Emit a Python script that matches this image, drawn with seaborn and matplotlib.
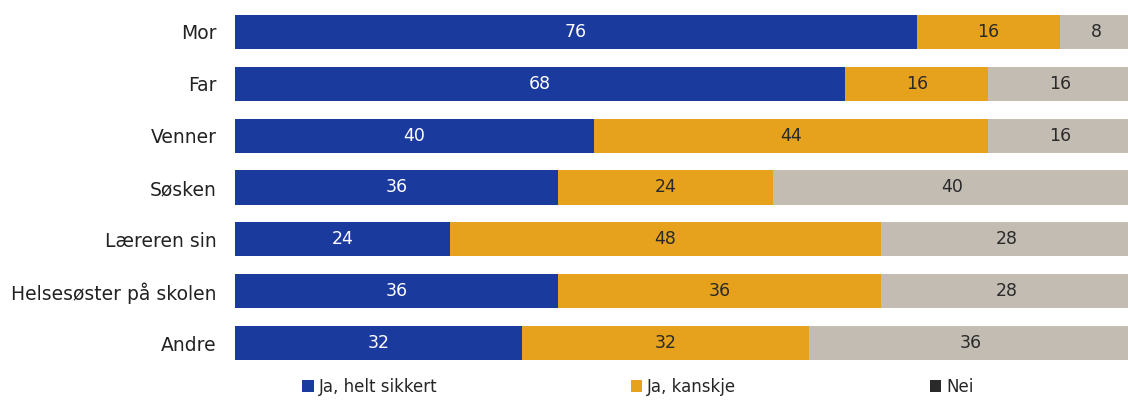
import numpy as np
import pandas as pd
import matplotlib.pyplot as plt
import seaborn as sns
from matplotlib.patches import Patch

categories = ['Mor', 'Far', 'Venner', 'Søsken', 'Læreren sin',
              'Helsesøster på skolen', 'Andre']
helt_sikkert = [76, 68, 40, 36, 24, 36, 32]
kanskje = [16, 16, 44, 24, 48, 36, 32]
nei = [8, 16, 16, 40, 28, 28, 36]
series_names = ['Ja, helt sikkert', 'Ja, kanskje', 'Nei']

colors = ['#1b3a9e', '#e6a11d', '#c2bcb3']
text_colors = ['white', '#2a2a2a', '#2a2a2a']

df = pd.DataFrame({'kategori': categories,
                   'helt': helt_sikkert, 'kanskje': kanskje, 'nei': nei})
cols = ['helt', 'kanskje', 'nei']
cum = df[cols].cumsum(axis=1)

sns.set_style('white')
plt.rcParams['font.family'] = ['DejaVu Sans']

fig = plt.figure(figsize=(11.28, 4.01), dpi=100)
ax = fig.add_axes([235 / 1128, 1 - 369 / 401, 897 / 1128, 363 / 401])

# layered bars: draw cumulative totals from the back
for col, color in reversed(list(zip(cols, colors))):
    sns.barplot(x=cum[col], y=df['kategori'], orient='h', color=color,
                width=0.66, ax=ax, saturation=1, linewidth=0)

# value labels centred in each segment
for i in range(len(categories)):
    left = 0
    for col, tc in zip(cols, text_colors):
        v = df.loc[i, col]
        ax.text(left + v / 2, i, str(v), ha='center', va='center',
                fontsize=12.5, color=tc)
        left += v

ax.set_xlim(0, 100)
ax.set_ylim(len(categories) - 0.5, -0.5)
ax.set_xlabel('')
ax.set_ylabel('')
ax.set_xticks([])
ax.tick_params(axis='y', length=0, labelsize=13.5, pad=13, colors='#222222')
for s in ax.spines.values():
    s.set_visible(False)

handles = [Patch(facecolor=c, edgecolor='none') for c in colors[:2]]
handles.append(Patch(facecolor='#2a2a2a', edgecolor='none'))
fig.legend(handles, series_names, loc='lower left', bbox_to_anchor=(287 / 1128, -0.025),
           ncol=3, frameon=False, fontsize=12, handlelength=0.7, handleheight=0.7,
           handletextpad=0.3, columnspacing=11.6)

fig.savefig('out.png', dpi=100)
